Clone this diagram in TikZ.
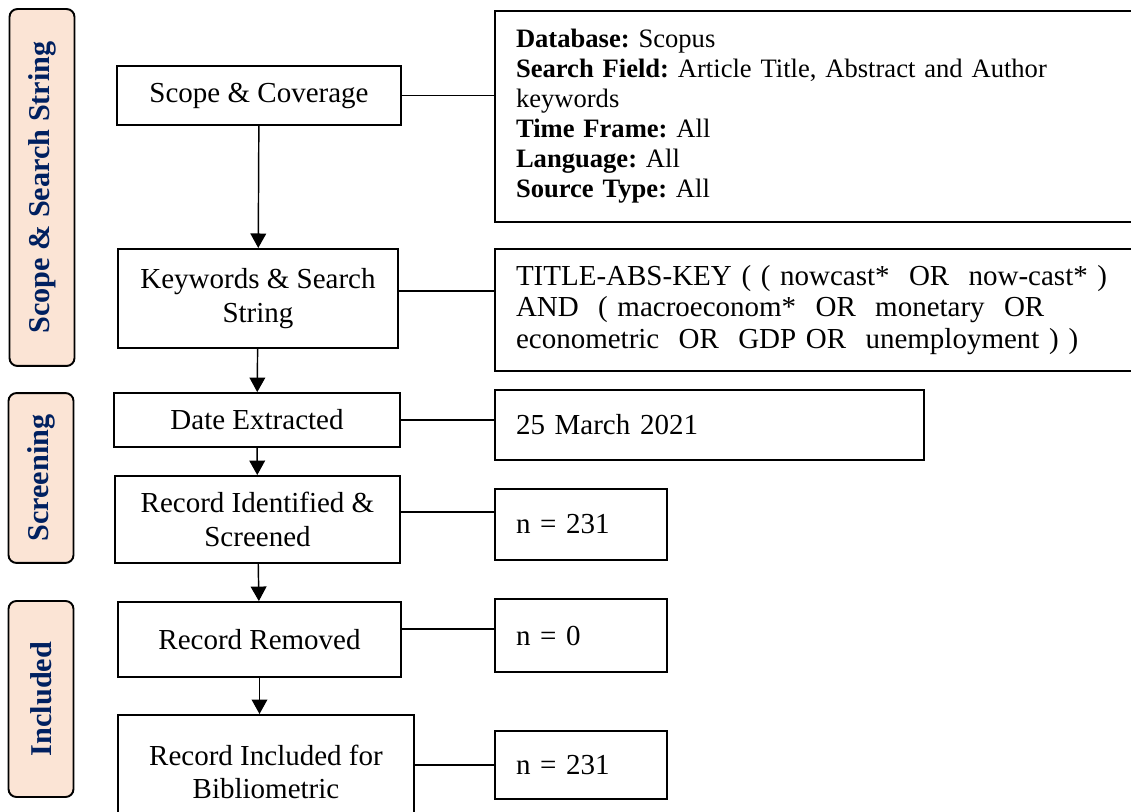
\documentclass[tikz,border=0pt]{standalone}
\usepackage{fontspec}
\setmainfont{Liberation Serif}
\usetikzlibrary{arrows.meta}
\definecolor{peach}{HTML}{FBE4D5}
\definecolor{navy}{HTML}{002060}
\frenchspacing
\tikzset{
    stepbox/.style={draw, line width=0.8pt, align=center, inner sep=1pt,
        font=\fontsize{12}{13.8}\selectfont},
    infobox/.style={draw, line width=0.8pt, align=left, anchor=west,
        inner xsep=8.7pt, inner ysep=0pt},
    phase/.style={draw, line width=0.8pt, rounded corners=3.3pt, fill=peach,
        rotate=90, text=navy, minimum height=26.9pt,
        font=\fontsize{12.5}{14}\selectfont\bfseries},
    link/.style={line width=0.6pt},
    flow/.style={line width=0.6pt, -{Triangle[length=6pt,width=6.5pt]}}
}
\begin{document}
\begin{tikzpicture}[x=0.4138pt, y=-0.4138pt]
    \useasboundingbox (0,0) rectangle (1131,812);

    % Phase labels on the left
    \node[phase, minimum width=147.7pt] (lscope) at (42,187.5) {Scope \& Search String};
    \node[phase, minimum width=70.3pt] (lscreen) at (41,478) {Screening};
    \node[phase, minimum width=81.1pt] (lincl) at (41,699) {Included};

    % Steps
    \node[stepbox, minimum width=117.5pt, minimum height=24.4pt] (scope) at (259,95.5) {Scope \& Coverage};
    \node[stepbox, minimum width=115.9pt, minimum height=41pt] (keys) at (258,298.5) {Keywords \& Search\\String};
    \node[stepbox, minimum width=118.3pt, minimum height=22.3pt] (date) at (257,420) {Date Extracted};
    \node[stepbox, minimum width=117.9pt, minimum height=36pt] (recid) at (257.5,519.5) {Record Identified \&\\Screened};
    \node[stepbox, minimum width=117.1pt, minimum height=31pt] (removed) at (259.5,639.5) {Record Removed};
    \node[stepbox, minimum width=122.5pt, minimum height=47.2pt] (incl) at (266,772) {Record Included for\\Bibliometric};

    % Details
    \node[infobox, text width=249.9pt, minimum height=87.3pt,
        font=\fontsize{11}{12.4}\selectfont] (info) at (494,116.5)
        {\textbf{Database:} Scopus\\
         \textbf{Search Field:} Article Title, Abstract and Author\\
         keywords\\
         \textbf{Time Frame:} All\\
         \textbf{Language:} All\\
         \textbf{Source Type:} All};
    \node[infobox, text width=249.9pt, minimum height=50.5pt,
        font=\fontsize{12}{13.1}\selectfont] (search) at (494,310)
        {TITLE-ABS-KEY ( ( nowcast*~ OR~ now-cast* )\\
         AND~ ( macroeconom*~ OR~ monetary~ OR\\
         econometric~ OR~ GDP OR~ unemployment ) )};
    \node[infobox, text width=160.1pt, minimum height=29pt,
        font=\fontsize{12}{13.8}\selectfont] (datebox) at (494,425) {25 March 2021};
    \node[infobox, text width=53.8pt, minimum height=29.4pt,
        font=\fontsize{12}{13.8}\selectfont] (nid) at (494,524.5) {n = 231};
    \node[infobox, text width=53.8pt, minimum height=30.2pt,
        font=\fontsize{12}{13.8}\selectfont] (nrem) at (494,635.5) {n = 0};
    \node[infobox, text width=53.8pt, minimum height=28.1pt,
        font=\fontsize{12}{13.8}\selectfont] (nincl) at (494,765) {n = 231};

    % Flow arrows
    \draw[flow] (scope) -- (keys);
    \draw[flow] (keys) -- (date);
    \draw[flow] (date) -- (recid);
    \draw[flow] (recid) -- (removed);
    \draw[flow] (removed) -- (removed.south |- incl.north);

    % Links to details
    \draw[link] (scope.east) -- (scope.east -| info.west);
    \draw[link] ([yshift=3.1pt]keys.east) -- ([yshift=3.1pt]keys.east -| search.west);
    \draw[link] (date.east) -- (date.east -| datebox.west);
    \draw[link] ([yshift=3.1pt]recid.east) -- ([yshift=3.1pt]recid.east -| nid.west);
    \draw[link] ([yshift=4.3pt]removed.east) -- ([yshift=4.3pt]removed.east -| nrem.west);
    \draw[link] ([yshift=2.9pt]incl.east) -- ([yshift=2.9pt]incl.east -| nincl.west);
\end{tikzpicture}
\end{document}
